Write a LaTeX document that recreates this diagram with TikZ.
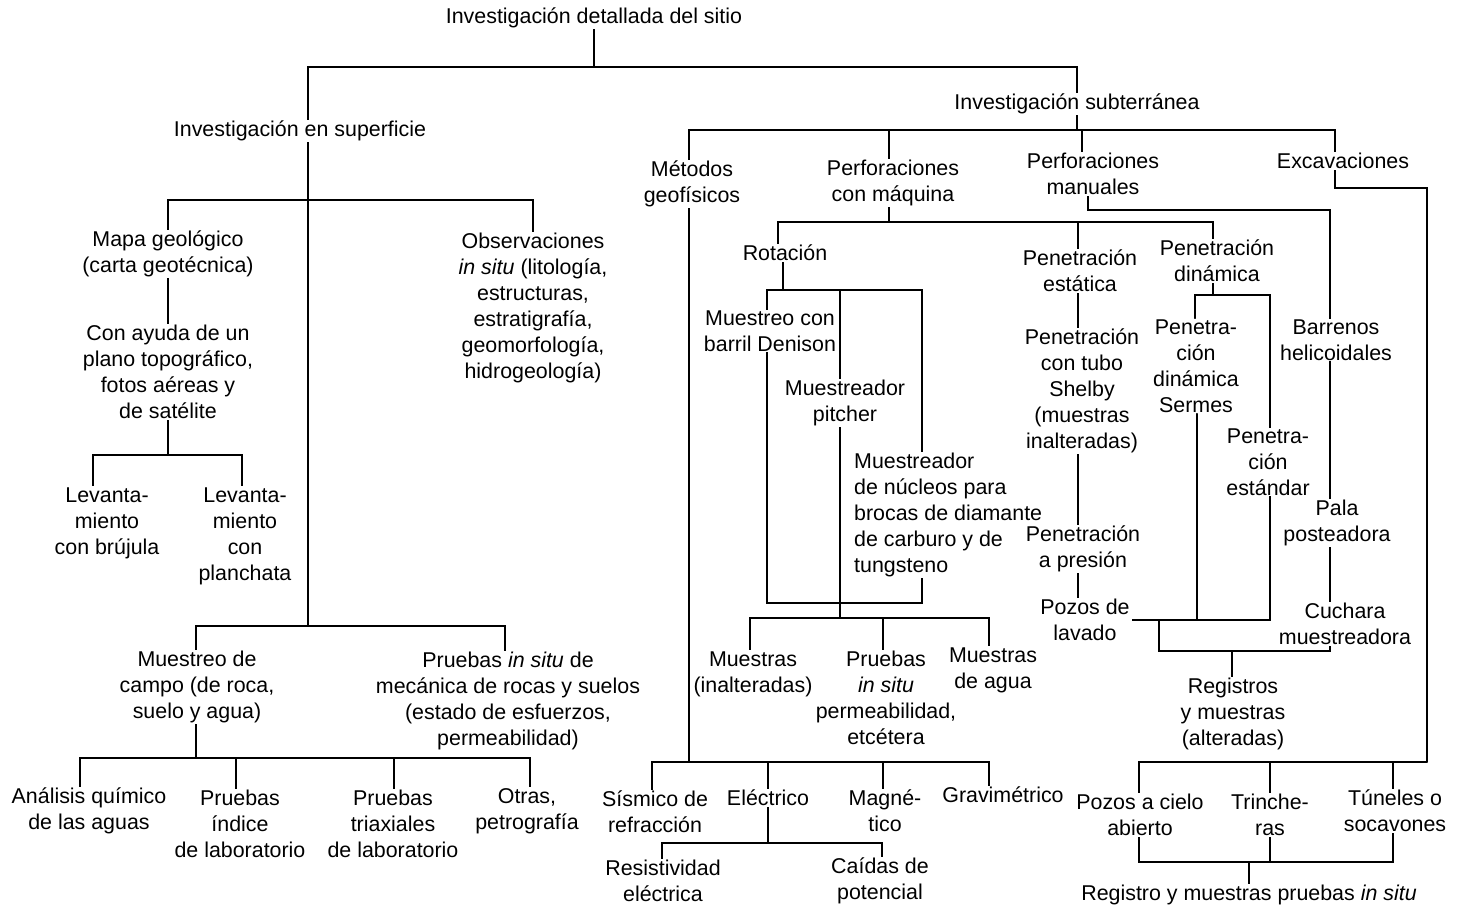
\documentclass[tikz,border=0pt]{standalone}
\usepackage{fontspec}
\setmainfont{Liberation Sans}
\usetikzlibrary{backgrounds}
\pgfdeclarelayer{paper}
\pgfsetlayers{paper,background,main}
\begin{document}
\begin{tikzpicture}[x=1pt,y=-1pt,
  lbl/.style={fill=white,inner xsep=2pt,inner ysep=1pt,align=center,
    font=\fontsize{21.4}{26}\selectfont},
  wire/.style={line width=1.4pt,line cap=round,line join=miter}]
\begin{pgfonlayer}{paper}
  \fill[white] (0,0) rectangle (1459,913);
\end{pgfonlayer}
\useasboundingbox (0,0) rectangle (1459,913);

% ---------- labels ----------
\node[lbl] (root) at (594,18) {Investigación detallada del sitio};
\node[lbl] (sup) at (300,131) {Investigación en superficie};
\node[lbl] (sub) at (1077,104) {Investigación subterránea};

% surface investigation
\node[lbl] (mapa) at (168,254) {Mapa geológico\\(carta geotécnica)};
\node[lbl] (obs) at (533,308) {Observaciones\\\textit{in situ} (litología,\\estructuras,\\estratigrafía,\\geomorfología,\\hidrogeología)};
\node[lbl] (ayuda) at (168,372) {Con ayuda de un\\plano topográfico,\\fotos aéreas y\\de satélite};
\node[lbl] (lev1) at (107,523) {Levanta-\\miento\\con brújula};
\node[lbl] (lev2) at (245,536) {Levanta-\\miento\\con\\planchata};
\node[lbl] (muestreo) at (197,687) {Muestreo de\\campo (de roca,\\suelo y agua)};
\node[lbl] (pruebas) at (508,701) {Pruebas \textit{in situ} de\\mecánica de rocas y suelos\\(estado de esfuerzos,\\permeabilidad)};
\node[lbl] (quim) at (89,811) {Análisis químico\\de las aguas};
\node[lbl] (indice) at (240,824) {Pruebas\\índice\\de laboratorio};
\node[lbl] (triax) at (393,824) {Pruebas\\triaxiales\\de laboratorio};
\node[lbl] (otras) at (527,811) {Otras,\\petrografía};

% underground investigation
\node[lbl] (metodos) at (692,184) {Métodos\\geofísicos};
\node[lbl] (maquina) at (893,183) {Perforaciones\\con máquina};
\node[lbl] (manuales) at (1093,174) {Perforaciones\\manuales};
\node[lbl] (excav) at (1343,161) {Excavaciones};
\node[lbl] (rot) at (785,253) {Rotación};
\node[lbl] (denison) at (770,331) {Muestreo con\\barril Denison};
\node[lbl] (pitcher) at (845,403) {Muestreador\\pitcher};
\node[lbl,anchor=west,align=left] (nucleos) at (852,515) {Muestreador\\de núcleos para\\brocas de diamante\\de carburo y de\\tungsteno};
\node[lbl] (inalt) at (753,674) {Muestras\\(inalteradas)};
\node[lbl] (pruebas2) at (886,698) {Pruebas\\\textit{in situ}\\permeabilidad,\\etcétera};
\node[lbl] (agua) at (993,670) {Muestras\\de agua};
\node[lbl] (sismico) at (655,812) {Sísmico de\\refracción};
\node[lbl] (electrico) at (768,798) {Eléctrico};
\node[lbl] (magnetico) at (885,811) {Magné-\\tico};
\node[lbl] (gravi) at (1003,795) {Gravimétrico};
\node[lbl] (resist) at (663,881) {Resistividad\\eléctrica};
\node[lbl] (caidas) at (880,881) {Caídas de\\potencial};
\node[lbl] (estatica) at (1080,271) {Penetración\\estática};
\node[lbl] (shelby) at (1082,391) {Penetración\\con tubo\\Shelby\\(muestras\\inalteradas)};
\node[lbl] (presion) at (1083,549) {Penetración\\a presión};
\node[lbl] (lavado) at (1085,620) {Pozos de\\lavado};
\node[lbl] (dinamica) at (1217,261) {Penetración\\dinámica};
\node[lbl] (sermes) at (1196,366) {Penetra-\\ción\\dinámica\\Sermes};
\node[lbl] (estandar) at (1268,462) {Penetra-\\ción\\estándar};
\node[lbl] (barrenos) at (1336,340) {Barrenos\\helicoidales};
\node[lbl] (pala) at (1337,523) {Pala\\posteadora};
\node[lbl] (cuchara) at (1345,624) {Cuchara\\muestreadora};
\node[lbl] (registros) at (1233,714) {Registros\\y muestras\\(alteradas)};
\node[lbl] (pozos) at (1140,815) {Pozos a cielo\\abierto};
\node[lbl] (trincheras) at (1270,815) {Trinche-\\ras};
\node[lbl] (tuneles) at (1395,811) {Túneles o\\socavones};
\node[lbl] (regfin) at (1249,895) {Registro y muestras pruebas \textit{in situ}};

% ---------- junction points ----------
\coordinate (jTop) at (594,67);
\coordinate (jSup) at (308,67);
\coordinate (jSupEnd) at (308,626);
\coordinate (jSub) at (1077,67);
\coordinate (jSubEnd) at (1077,130);
\coordinate (jMap) at (168,200);
\coordinate (jObs) at (533,200);
\coordinate (jAy) at (168,455);
\coordinate (jLev1) at (93,455);
\coordinate (jLev2) at (242,455);
\coordinate (jMue) at (196,626);
\coordinate (jPru) at (505,626);
\coordinate (jLab) at (196,758);
\coordinate (jLab1) at (80,758);
\coordinate (jLab2) at (236,758);
\coordinate (jLab3) at (394,758);
\coordinate (jLab4) at (530,758);
\coordinate (jMet) at (689,130);
\coordinate (jMaq) at (889,130);
\coordinate (jMan) at (1082,130);
\coordinate (jExc) at (1335,130);
\coordinate (jMetEnd) at (689,762);
\coordinate (jExc2) at (1335,188);
\coordinate (jExc3) at (1427,188);
\coordinate (jExc4) at (1427,762);
\coordinate (jMaq2) at (889,222);
\coordinate (jRot) at (778,222);
\coordinate (jEst) at (1078,222);
\coordinate (jDin) at (1213,222);
\coordinate (jRot2) at (783,290);
\coordinate (jDen) at (767,290);
\coordinate (jPit) at (840,290);
\coordinate (jNucB) at (922,603);
\coordinate (jPitB) at (840,603);
\coordinate (jMs) at (840,618);
\coordinate (jMs1) at (750,618);
\coordinate (jMs2) at (883,618);
\coordinate (jMs3) at (989,618);
\coordinate (jGeo1) at (652,762);
\coordinate (jGeo2) at (768,762);
\coordinate (jGeo3) at (883,762);
\coordinate (jGeo4) at (989,762);
\coordinate (jEle) at (768,843);
\coordinate (jEle1) at (662,843);
\coordinate (jEle2) at (882,843);
\coordinate (jMan2) at (1088,210);
\coordinate (jBar) at (1330,210);
\coordinate (jDin2) at (1213,295);
\coordinate (jSer) at (1195,295);
\coordinate (jStd) at (1270,295);
\coordinate (jSerB) at (1197,620);
\coordinate (jStdB) at (1270,620);
\coordinate (jLav) at (1159,620);
\coordinate (jReg0) at (1159,651);
\coordinate (jReg) at (1232,651);
\coordinate (jCuc) at (1330,651);
\coordinate (jPoz) at (1139,762);
\coordinate (jTri) at (1270,762);
\coordinate (jTun) at (1393,762);
\coordinate (jFin) at (1249,862);
\coordinate (jFin1) at (1139,862);
\coordinate (jFin2) at (1270,862);
\coordinate (jFin3) at (1393,862);

% ---------- connectors ----------
\begin{scope}[on background layer, every path/.style={wire}]
  \draw (root) -- (jTop);
  \draw (jSupEnd) -- (jSup) -- (jSub) -- (jSubEnd);
  % surface
  \draw (mapa) -- (jMap) -- (jObs) -- (obs);
  \draw (mapa) -- (ayuda);
  \draw (ayuda) -- (jAy);
  \draw (lev1.north -| jLev1) -- (jLev1) -- (jLev2) -- (lev2.north -| jLev2);
  \draw (muestreo.north -| jMue) -- (jMue) -- (jPru) -- (pruebas.north -| jPru);
  \draw (muestreo.south -| jLab) -- (jLab);
  \draw (quim.north -| jLab1) -- (jLab1) -- (jLab4) -- (otras.north -| jLab4);
  \draw (jLab2) -- (indice.north -| jLab2);
  \draw (jLab3) -- (triax.north -| jLab3);
  % underground
  \draw (jMetEnd) -- (jMet) -- (jExc) -- (jExc2) -- (jExc3) -- (jExc4);
  \draw (jMaq) -- (maquina.north -| jMaq);
  \draw (jMan) -- (manuales.north -| jMan);
  % machine drilling
  \draw (maquina.south -| jMaq2) -- (jMaq2);
  \draw (rot.north -| jRot) -- (jRot) -- (jDin) -- (dinamica.north -| jDin);
  \draw (jEst) -- (lavado.north -| jEst);
  \draw (rot.south -| jRot2) -- (jRot2);
  \draw (jDen) rectangle (jNucB);
  \draw (jPit) -- (jPitB) -- (jMs);
  \draw (inalt.north -| jMs1) -- (jMs1) -- (jMs3) -- (agua.north -| jMs3);
  \draw (jMs2) -- (pruebas2.north -| jMs2);
  % geophysical methods
  \draw (sismico.north -| jGeo1) -- (jGeo1) -- (jGeo4) -- (gravi.north -| jGeo4);
  \draw (jGeo2) -- (electrico);
  \draw (jGeo3) -- (magnetico.north -| jGeo3);
  \draw (electrico) -- (jEle);
  \draw (resist.north -| jEle1) -- (jEle1) -- (jEle2) -- (caidas.north -| jEle2);
  % dynamic penetration
  \draw (dinamica.south -| jDin2) -- (jDin2);
  \draw (sermes.north -| jSer) -- (jSer) -- (jStd) -- (jStdB) -- (jSerB) -- (sermes.south -| jSerB);
  \draw (lavado.east) -- (jStdB);
  % hand drilling
  \draw (manuales.south -| jMan2) -- (jMan2) -- (jBar) -- (jCuc) -- (jReg0) -- (jLav);
  \draw (jReg) -- (registros.north -| jReg);
  % excavations
  \draw (pozos.north -| jPoz) -- (jPoz) -- (jExc4);
  \draw (jTri) -- (trincheras);
  \draw (jTun) -- (tuneles.north -| jTun);
  \draw (pozos.south -| jFin1) -- (jFin1) -- (jFin3) -- (tuneles.south -| jFin3);
  \draw (trincheras.south -| jFin2) -- (jFin2);
  \draw (jFin) -- (regfin);
\end{scope}
\end{tikzpicture}
\end{document}
